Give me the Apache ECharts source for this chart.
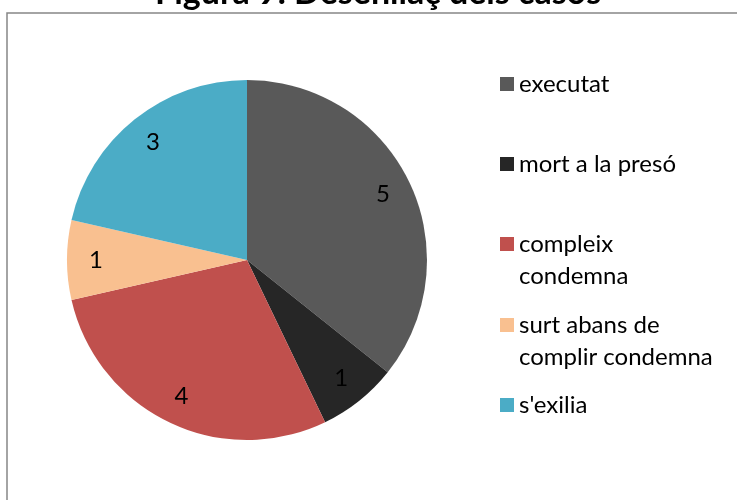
<!DOCTYPE html>
<html>
<head>
<meta charset="utf-8">
<script src="https://cdn.jsdelivr.net/npm/echarts@6/dist/echarts.min.js"></script>
<style>
  html, body { margin: 0; padding: 0; background: #fff; }
  #chart { width: 737px; height: 500px; }
</style>
</head>
<body>
<div id="chart"></div>
<script>
// dades
var categories = ['executat', 'mort a la presó', 'compleix condemna', 'surt abans de complir condemna', "s'exilia"];
var values = [5, 1, 4, 1, 3];
var colors = ['#595959', '#262626', '#C0504D', '#F9C090', '#4BACC6'];
// text de la llegenda (amb salts de línia com a l'original)
var legendLabels = ['executat', 'mort a la presó', 'compleix\ncondemna', 'surt abans de\ncomplir condemna', "s'exilia"];
var legendTops = [68, 148, 196, 277, 389];

var font = 'Lato, "Open Sans", sans-serif';

var pieData = categories.map(function (c, i) {
    return { name: c, value: values[i], itemStyle: { color: colors[i] } };
});
var labelData = categories.map(function (c, i) {
    return { name: c, value: values[i] };
});

// una llegenda per element, perquè l'espaiat de l'original no és regular
var legends = categories.map(function (c, i) {
    var txt = legendLabels[i];
    // línia buida al davant: així la primera línia queda centrada amb el quadret
    if (txt.indexOf('\n') >= 0) txt = '\n' + txt;
    return {
        data: [c],
        left: 500,
        top: legendTops[i],
        padding: 0,
        itemWidth: 14,
        itemHeight: 14,
        icon: 'rect',
        selectedMode: false,
        formatter: function () { return txt; },
        textStyle: {
            fontFamily: font,
            fontSize: 24,
            color: '#000',
            lineHeight: 32
        }
    };
});

var option = {
    backgroundColor: '#fff',
    animation: false,
    title: {
        text: 'Figura 9. Desenllaç dels casos',
        left: 155,
        top: -24,
        padding: 0,
        textStyle: { fontFamily: font, fontSize: 34, fontWeight: 'bold', color: '#000' }
    },
    graphic: [{
        type: 'rect',
        shape: { x: 7, y: 13, width: 800, height: 600 },
        style: { fill: 'none', stroke: '#868686', lineWidth: 1.5 },
        silent: true,
        z: -10
    }],
    legend: legends,
    series: [
        {
            name: 'Desenllaç',
            type: 'pie',
            center: [247, 260],
            radius: [0, 180],
            startAngle: 90,
            clockwise: true,
            label: { show: false },
            labelLine: { show: false },
            itemStyle: { borderWidth: 0 },
            emphasis: { disabled: true },
            data: pieData
        },
        {
            name: 'etiquetes',
            type: 'pie',
            center: [247, 260],
            radius: [116, 180],
            startAngle: 90,
            clockwise: true,
            silent: true,
            itemStyle: { color: 'rgba(0,0,0,0)', borderWidth: 0 },
            label: {
                show: true,
                position: 'inside',
                formatter: '{c}',
                fontFamily: font,
                fontSize: 24,
                color: '#000'
            },
            labelLine: { show: false },
            emphasis: { disabled: true },
            data: labelData
        }
    ]
};

var chart = echarts.init(document.getElementById('chart'));
chart.setOption(option);
</script>
</body>
</html>
